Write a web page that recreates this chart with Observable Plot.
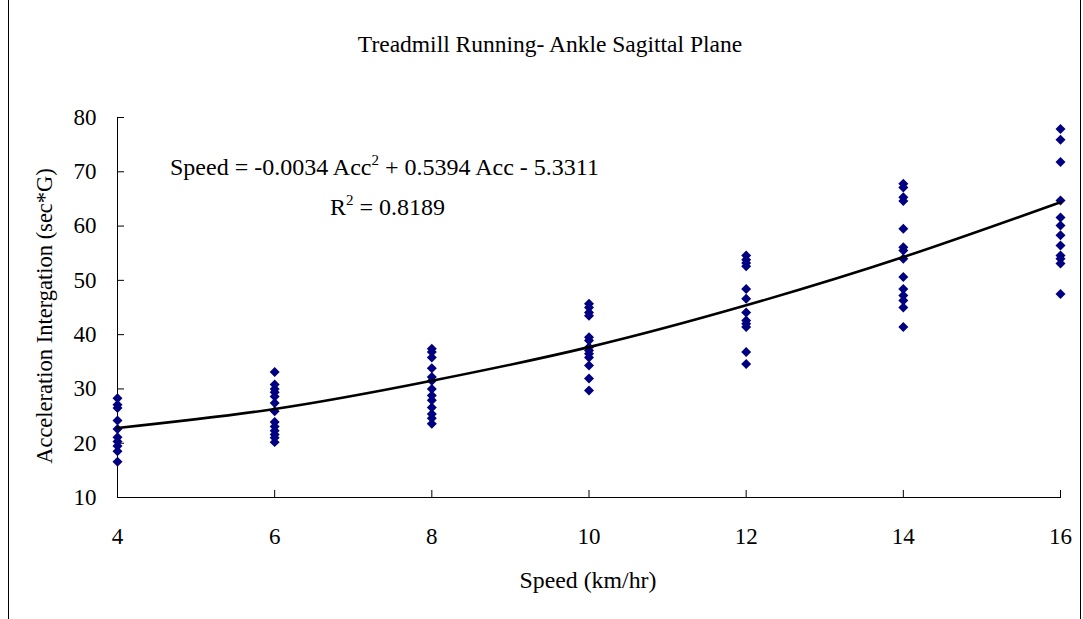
<!DOCTYPE html>
<html><head><meta charset="utf-8">
<script src="https://cdn.jsdelivr.net/npm/d3@7"></script>
<script src="https://cdn.jsdelivr.net/npm/@observablehq/plot@0.6"></script>
<style>
html,body{margin:0;padding:0;background:#fff;}
#wrap{position:relative;width:1083px;height:619px;overflow:hidden;font-family:"Liberation Serif","DejaVu Serif",serif;color:#000;}
.bl{position:absolute;top:0;width:1px;height:619px;background:#000;}
.txt{position:absolute;white-space:nowrap;line-height:1;}
#title{left:0;width:1100px;text-align:center;top:33px;font-size:23.5px;}
#xtitle{left:0;width:1176px;text-align:center;top:569px;font-size:23.8px;}
#ytitle{left:45px;top:316px;font-size:22.5px;transform:translate(-50%,-50%) rotate(-90deg);}
#eq1{left:170px;top:155px;font-size:24px;}
#eq2{left:330px;top:195px;font-size:24px;}
sup{font-size:15px;vertical-align:0;position:relative;top:-10px;}
#chart{position:absolute;left:0;top:70px;}
</style></head>
<body>
<div id="wrap">
  <div class="bl" style="left:8px"></div>
  <div class="bl" style="left:1080px"></div>
  <div id="title" class="txt">Treadmill Running- Ankle Sagittal Plane</div>
  <div id="ytitle" class="txt">Acceleration Intergation (sec*G)</div>
  <div id="xtitle" class="txt">Speed (km/hr)</div>
  <div id="chart"></div>
  <div id="eq1" class="txt">Speed = -0.0034 Acc<sup>2</sup> + 0.5394 Acc - 5.3311</div>
  <div id="eq2" class="txt">R<sup>2</sup> = 0.8189</div>
</div>
<script>
// Data
const speedLevels = [4, 6, 8, 10, 12, 14, 16];
const acc4  = [28.3, 27.1, 26.5, 24.2, 22.6, 21.1, 20.3, 19.5, 18.5, 16.6];
const acc6  = [33.1, 30.8, 30.0, 29.4, 28.6, 27.4, 25.9, 23.9, 23.1, 22.3, 21.6, 21.0, 20.2];
const acc8  = [37.4, 36.8, 35.8, 33.8, 32.2, 31.5, 30.0, 28.8, 27.9, 26.6, 25.4, 24.6, 23.6];
const acc10 = [45.7, 45.0, 44.1, 43.5, 39.5, 38.9, 37.7, 37.1, 36.5, 35.8, 34.3, 31.9, 29.7];
const acc12 = [54.6, 53.8, 53.2, 52.6, 48.4, 46.6, 44.1, 42.6, 42.0, 41.4, 36.8, 34.6];
const acc14 = [67.8, 67.1, 65.3, 64.6, 59.5, 56.1, 55.5, 54.0, 50.6, 48.4, 47.2, 46.3, 45.0, 41.4];
const acc16 = [77.9, 75.9, 71.8, 64.7, 61.6, 60.1, 58.3, 56.4, 54.6, 54.0, 53.1, 47.5];
// Trend line at each speed level
const trendAcc = [22.8, 26.3, 31.5, 37.7, 45.4, 54.3, 64.4];
const xTicks = [4, 6, 8, 10, 12, 14, 16];
const yTicks = [10, 20, 30, 40, 50, 60, 70, 80];

const groups = [acc4, acc6, acc8, acc10, acc12, acc14, acc16];
const points = groups.flatMap((vals, i) => vals.map(v => ({speed: speedLevels[i], acc: v})));
const trend = speedLevels.map((s, i) => ({speed: s, acc: trendAcc[i]}));

const W = 1083, H = 540;
const mL = 117, mR = 23, mT = 47, mB = 113;
const fw = W - mL - mR, fh = H - mT - mB;

const chart = Plot.plot({
  width: W, height: H,
  marginLeft: mL, marginRight: mR, marginTop: mT, marginBottom: mB,
  style: {fontFamily: '"Liberation Serif","DejaVu Serif",serif', fontSize: "23px", color: "#000", background: "transparent", overflow: "visible"},
  x: {domain: [4, 16]},
  y: {domain: [10, 80]},
  marks: [
    Plot.axisY({ticks: yTicks, tickSize: 0, tickPadding: 21, label: null, fontSize: 23}),
    Plot.axisX({ticks: xTicks, tickSize: 0, tickPadding: 30, label: null, fontSize: 23}),
    Plot.tickY(yTicks, {y: d => d, insetRight: fw - 7, stroke: "#000"}),
    Plot.tickX(xTicks, {x: d => d, insetTop: fh - 7, stroke: "#000"}),
    Plot.frame({anchor: "left", stroke: "#000"}),
    Plot.frame({anchor: "bottom", stroke: "#000"}),
    Plot.dot(points, {x: "speed", y: "acc", symbol: "diamond2", r: 4.5, fill: "#000080", stroke: "none"}),
    Plot.line(trend, {x: "speed", y: "acc", curve: "natural", stroke: "#000", strokeWidth: 2.6})
  ]
});
document.getElementById("chart").appendChild(chart);
</script>
</body></html>
